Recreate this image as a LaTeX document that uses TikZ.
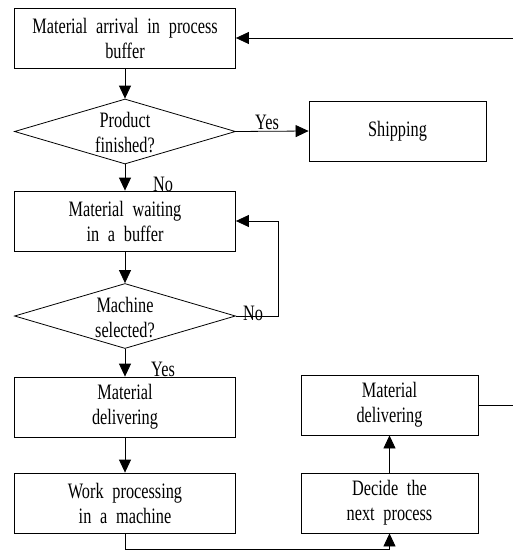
\documentclass[tikz,border=0pt]{standalone}
\usepackage{fontspec}
\setmainfont{Liberation Serif}[FakeStretch=0.74,WordSpace=2.15]
\usetikzlibrary{arrows.meta,shapes.geometric}

\tikzset{
  every node/.style={font=\fontsize{22}{25}\selectfont},
  stepbox/.style={draw, line width=0.8pt, align=center, inner sep=0pt,
    minimum width=221pt, minimum height=60pt},
  sidebox/.style={stepbox, minimum width=177pt},
  decision/.style={draw, line width=0.8pt, diamond, inner sep=0pt,
    minimum width=221pt, minimum height=65pt},
  caption/.style={align=center, inner sep=0pt},
  flow/.style={line width=0.8pt, -{Triangle[length=13pt,width=12pt]}},
  plain/.style={line width=0.8pt},
  tag/.style={inner sep=0pt}
}

\begin{document}
\begin{tikzpicture}[x=1pt,y=-1pt]
  \useasboundingbox (0,0) rectangle (513,551);

  % left column
  \node[stepbox] (arrive) at (125,38) {Material arrival in process\\buffer};
  \node[decision] (finished) at (125,131.5) {};
  \node[caption] (finishedtxt) at (125,133) {Product\\finished?};
  \node[sidebox] (ship) at (397.5,131) {Shipping};
  \node[stepbox] (wait) at (125,221) {Material waiting\\in a buffer};
  \node[decision] (select) at (125,316) {};
  \node[caption] (selecttxt) at (125,318) {Machine\\selected?};
  \node[stepbox] (deliverA) at (125,407) {Material\\delivering};
  \node[stepbox] (work) at (125,503) {Work processing\\in a machine};

  % right column
  \node[sidebox] (deliverB) at (389.5,405) {Material\\delivering};
  \node[sidebox] (decide) at (389.5,503) {Decide the\\next process};

  % loose ends at the right edge
  \coordinate (backin) at (513,38);
  \coordinate (backout) at (513,405);
  \coordinate (waitloop) at (278,316);
  \coordinate (bottomrun) at (125,549.5);

  % connectors
  \draw[flow] (backin) -- (arrive.east);
  \draw[flow] (arrive.south) -- (finished.north);
  \draw[flow] (finished.east) -- (ship.west);
  \draw[flow] (finished.south) -- (wait.north);
  \draw[flow] (wait.south) -- (select.north);
  \draw[flow] (select.east) -- (waitloop) |- (wait.east);
  \draw[flow] (select.south) -- (deliverA.north);
  \draw[flow] (deliverA.south) -- (work.north);
  \draw[flow] (work.south) -- (bottomrun) -| (decide.south);
  \draw[flow] (decide.north) -- (deliverB.south);
  \draw[plain] (deliverB.east) -- (backout);

  % branch labels
  \node[tag] (yes1) at (267,122) {Yes};
  \node[tag] (no1) at (163,184) {No};
  \node[tag] (no2) at (253,313) {No};
  \node[tag] (yes2) at (163,369) {Yes};
\end{tikzpicture}
\end{document}
